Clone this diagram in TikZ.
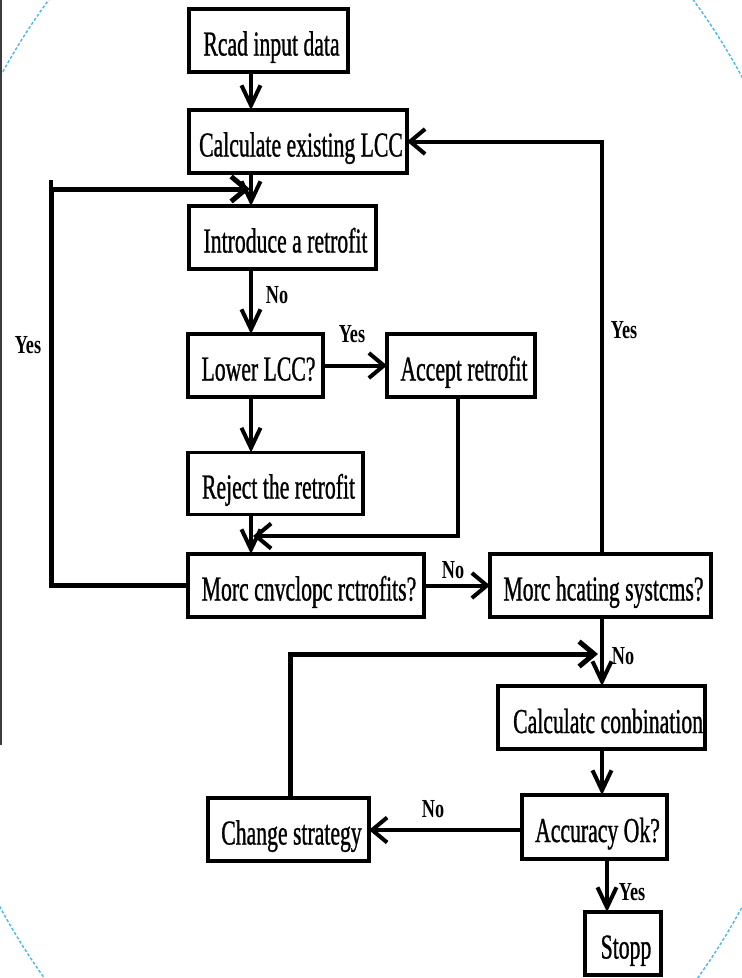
\documentclass[tikz,border=0pt]{standalone}
\usepackage{fontspec}
\usetikzlibrary{arrows.meta}
\newfontfamily\boxfont{Liberation Serif}[FakeStretch=0.62,FakeBold=0.8]
\newfontfamily\labfont{Liberation Serif}[FakeStretch=0.7]
\definecolor{edgeblue}{RGB}{70,185,235}
\definecolor{edgegray}{RGB}{60,60,60}
\tikzset{
  box/.style={draw, line width=3.5pt, rectangle, inner sep=0pt, outer sep=0pt,
    font={\boxfont\fontsize{35}{38}\selectfont}, text height=30pt, text depth=0pt,
    execute at begin node={\hspace*{6pt}}},
  boxtext/.style={inner sep=0pt, font={\boxfont\fontsize{35}{38}\selectfont}},
  lab/.style={inner sep=0pt, font={\labfont\bfseries\fontsize{26}{28}\selectfont}},
  vconn/.style={line width=4pt, -{Straight Barb[length=20pt,width=19pt]}},
  hconn/.style={line width=4pt, -{Straight Barb[length=15pt,width=25pt]}},
  plainline/.style={line width=4pt},
  looparr/.style={line width=5pt, -{Straight Barb[length=15pt,width=25pt]}}
}
\begin{document}
\begin{tikzpicture}[x=1pt,y=-1pt]
\useasboundingbox (0,0) rectangle (742,978);
\fill[white] (0,0) rectangle (742,978);
% screenshot edge artefacts
\begin{scope}
  \clip (0,0) rectangle (742,978);
  \draw[edgeblue, line width=1.4pt, densely dashed] (371,492) ellipse [x radius=470pt, y radius=676pt];
  \draw[edgegray, line width=2.5pt] (1,0) -- (1,745);
\end{scope}

% column coordinates
\coordinate (colA) at (251,0);
\coordinate (colB) at (602,0);
\coordinate (colC) at (607,0);

% boxes
\node[box, minimum width=159pt, minimum height=63pt] (read)   at (268.5,40.5) {Rcad input data};
\node[box, minimum width=218pt, minimum height=63pt] (calc)   at (298,141.5) {Calculate existing LCC};
\node[box, minimum width=187pt, minimum height=63pt] (intro)  at (282.5,237.5) {Introduce a retrofit};
\node[box, minimum width=135pt, minimum height=63pt] (lower)  at (255.5,365.5) {Lower LCC?};
\node[box, minimum width=148pt, minimum height=63pt] (accept) at (461,365.5) {Accept retrofit};
\node[box, minimum width=175pt, minimum height=62pt] (reject) at (275.5,483.5) {Reject the retrofit};
\node[box, minimum width=236pt, minimum height=63pt] (morenv) at (306,585.5) {Morc cnvclopc rctrofits?};
\node[box, minimum width=221pt, minimum height=63pt] (moreht) at (600.5,585.5) {Morc hcating systcms?};
\node[box, minimum width=207pt, minimum height=63pt] (comb)   at (601.5,717.5) {};
\node[boxtext, anchor=base west] (combtext) at (513,733) {Calculatc conbination};
\node[box, minimum width=145pt, minimum height=64pt] (acc)    at (594.5,827) {Accuracy Ok?};
\node[box, minimum width=161pt, minimum height=63pt] (change) at (288.5,829.5) {Change strategy};
\node[box, minimum width=76pt, minimum height=63pt]  (stopp)  at (623,943.5) {Stopp};

% helper coordinates
\coordinate (L) at (51,189);
\coordinate (m) at (458,536);
\coordinate (t) at (290,654);

% connectors
\draw[vconn] (read.south -| colA) -- (calc.north -| colA);
\draw[vconn] (calc.south -| colA) -- (intro.north -| colA);
\draw[looparr] (morenv.west) -| (L) -- ([xshift=-1pt]L -| colA);
\draw[plainline] (L) -- ++(0,-9);
\draw[vconn] (intro.south -| colA) -- (lower.north -| colA);
\draw[hconn] (lower.east) -- (accept.west);
\draw[vconn] (lower.south -| colA) -- (reject.north -| colA);
\draw[hconn] (accept.south -| m) -- (m) -- ([xshift=2pt]m -| colA);
\draw[vconn] (reject.south -| colA) -- (morenv.north -| colA);
\draw[hconn] (morenv.east) -- (moreht.west);
\draw[hconn] (moreht.north -| colB) |- (calc.east);
\draw[vconn] (moreht.south -| colB) -- (comb.north -| colB);
\draw[looparr] (change.north -| t) -- (t) -- ([xshift=-4pt]t -| colB);
\draw[vconn] (comb.south -| colB) -- (acc.north -| colB);
\draw[hconn] (acc.west |- 0,830) -- (change.east |- 0,830);
\draw[vconn] (acc.south -| colC) -- (stopp.north -| colC);

% labels
\node[lab] (yesleft)  at (28,345) {Yes};
\node[lab] (no1)      at (277,295) {No};
\node[lab] (yes1)     at (352,334) {Yes};
\node[lab] (yesright) at (624,330) {Yes};
\node[lab] (no2)      at (453,570) {No};
\node[lab] (no3)      at (623,656) {No};
\node[lab] (no4)      at (433,809) {No};
\node[lab] (yes2)     at (632,892) {Yes};
\end{tikzpicture}
\end{document}
